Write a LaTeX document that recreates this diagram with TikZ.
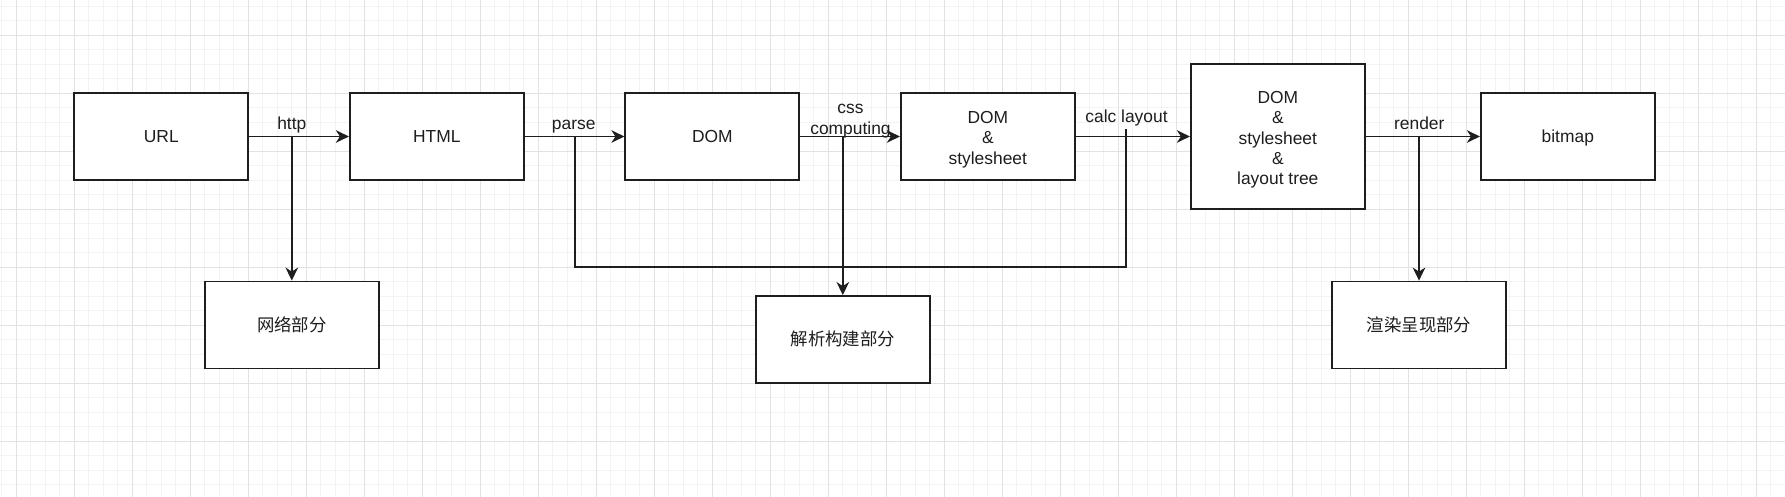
\documentclass[tikz,border=0pt]{standalone}
\usepackage{fontspec}
\setmainfont{Liberation Sans}
\newfontfamily\cjk{Noto Sans CJK SC}
\usetikzlibrary{arrows.meta}
\definecolor{gridmajor}{RGB}{226,226,226}
\definecolor{gridminor}{RGB}{243,243,243}
\definecolor{ink}{RGB}{30,30,30}
\begin{document}
\begin{tikzpicture}[x=1pt,y=-1pt,
  box/.style={draw=ink, line width=1.8pt, fill=white, minimum width=174pt, minimum height=87pt, inner sep=0pt, align=center, text=ink, font=\fontsize{17.4}{20.4}\selectfont},
  onebox/.style={box, text height=12.5pt, text depth=0pt},
  tallbox/.style={box, minimum height=145pt},
  conn/.style={draw=ink, line width=1.8pt, -{Stealth[length=13pt,width=12.5pt,inset=4pt]}},
  seg/.style={draw=ink, line width=1.8pt},
  lbl/.style={font=\fontsize{17.4}{20.4}\selectfont, text=ink, anchor=base, inner sep=0pt, align=center}
]
\useasboundingbox (0,0) rectangle (1785,497);
\fill[white] (0,0) rectangle (1785,497);
% grid
\foreach \i in {0,...,123} {\draw[gridminor, line width=0.9pt] ({1.8+14.5*\i},0) -- ({1.8+14.5*\i},497);}
\foreach \i in {0,...,34} {\draw[gridminor, line width=0.9pt] (0,{6+14.5*\i}) -- (1785,{6+14.5*\i});}
\foreach \i in {0,...,30} {\draw[gridmajor, line width=0.9pt] ({16.3+58*\i},0) -- ({16.3+58*\i},497);}
\foreach \i in {0,...,7} {\draw[gridmajor, line width=0.9pt] (0,{35+58*\i}) -- (1785,{35+58*\i});}

% boxes
\node[onebox] (url) at (161.3,136.5) {URL};
\node[onebox] (html) at (436.8,136.5) {HTML};
\node[onebox] (dom) at (712.3,136.5) {DOM};
\node[box] (dss) at (987.8,136.5) {\rule{0pt}{18.5pt}DOM\\\&\\stylesheet};
\node[tallbox] (dsl) at (1277.8,136.5) {\rule{0pt}{19pt}DOM\\\&\\stylesheet\\\&\\layout tree};
\node[onebox] (bmp) at (1567.8,136.5) {bitmap};
\node[onebox] (net) at (291.8,325) {\cjk 网络部分};
\node[onebox] (parsebox) at (842.8,339.5) {\cjk 解析构建部分};
\node[onebox] (rend) at (1419,325) {\cjk 渲染呈现部分};

% main flow
\draw[conn] (url) -- (html);
\draw[conn] (html) -- (dom);
\draw[conn] (dom) -- (dss);
\draw[conn] (dss) -- (dsl);
\draw[conn] (dsl) -- (bmp);

% junctions
\coordinate (jhttp) at (291.8,136.5);
\coordinate (jparse) at (574.6,136.5);
\coordinate (jcss) at (842.8,136.5);
\coordinate (jcalc) at (1126.3,129.3);
\coordinate (jrender) at (1419,136.5);
\coordinate (loopl) at (574.6,267);
\coordinate (loopr) at (1126.3,267);

\draw[conn] (jhttp) -- (net);
\draw[conn] (jcss) -- (parsebox);
\draw[conn] (jrender) -- (rend);
\draw[seg] (jparse) -- (loopl) -- (loopr) -- (jcalc);

% labels
\node[lbl] (lhttp) at (291.8,130) {http};
\node[lbl] (lparse) at (573.7,130) {parse};
\node[lbl] (lcss) at (850.5,134.3) {css\\computing};
\node[lbl] (lcalc) at (1126.5,122.7) {calc layout};
\node[lbl] (lrender) at (1419.3,130) {render};
\end{tikzpicture}
\end{document}
